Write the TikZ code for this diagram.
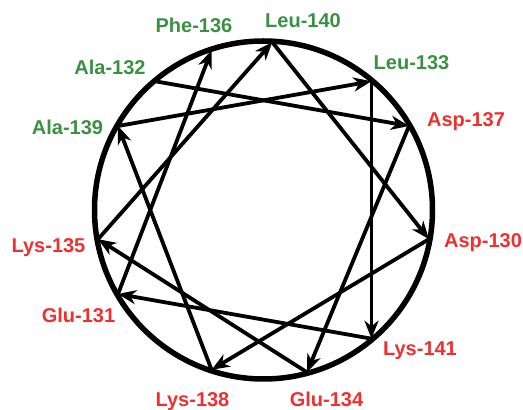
\documentclass[tikz,border=0pt]{standalone}
\usepackage{fontspec}
\setmainfont{Liberation Sans}
\usetikzlibrary{arrows.meta}
\definecolor{lgreen}{RGB}{58,145,66}
\definecolor{lred}{RGB}{237,48,48}
\begin{document}
\begin{tikzpicture}[x=1pt,y=1pt,
  chord/.style={line width=3.8pt, -{Stealth[length=18pt,width=14pt,inset=5.5pt]}},
  lab/.style={anchor=base, inner sep=0pt, font=\bfseries\fontsize{20}{24}\selectfont},
  glab/.style={lab, text=lgreen},
  rlab/.style={lab, text=lred}]
\useasboundingbox (0,0) rectangle (523,410);
\coordinate (c) at (263.5,200);
\draw[line width=5.5pt] (c) circle (169pt);
% residue positions on the wheel
\foreach \n/\a in {p140/87, p136/108, p132/130, p139/150, p135/190, p131/210,
                   p138/252, p134/285, p141/310, p130/350, p137/30, p133/50}
  \path (c) ++(\a:168pt) coordinate (\n);
% connectors
\draw[chord] (p132) -- (p137);
\draw[chord] (p137) -- (p134);
\draw[chord] (p134) -- (p135);
\draw[chord] (p135) -- (p140);
\draw[chord] (p140) -- (p130);
\draw[chord] (p130) -- (p138);
\draw[chord] (p138) -- (p139);
\draw[chord] (p139) -- (p133);
\draw[chord] (p133) -- (p141);
\draw[chord] (p141) -- (p131);
\draw[chord] (p131) -- (p136);
% labels
\node[glab] (l136) at (194,377) {Phe-136};
\node[glab] (l140) at (303,382) {Leu-140};
\node[glab] (l133) at (411.5,340) {Leu-133};
\node[glab] (l132) at (110,335) {Ala-132};
\node[glab] (l139) at (67.5,275) {Ala-139};
\node[rlab] (l137) at (466,283) {Asp-137};
\node[rlab] (l130) at (483,162) {Asp-130};
\node[rlab] (l135) at (48.5,157) {Lys-135};
\node[rlab] (l131) at (78.5,87) {Glu-131};
\node[rlab] (l141) at (420,54) {Lys-141};
\node[rlab] (l138) at (192.5,3.5) {Lys-138};
\node[rlab] (l134) at (326.5,3.5) {Glu-134};
\end{tikzpicture}
\end{document}
